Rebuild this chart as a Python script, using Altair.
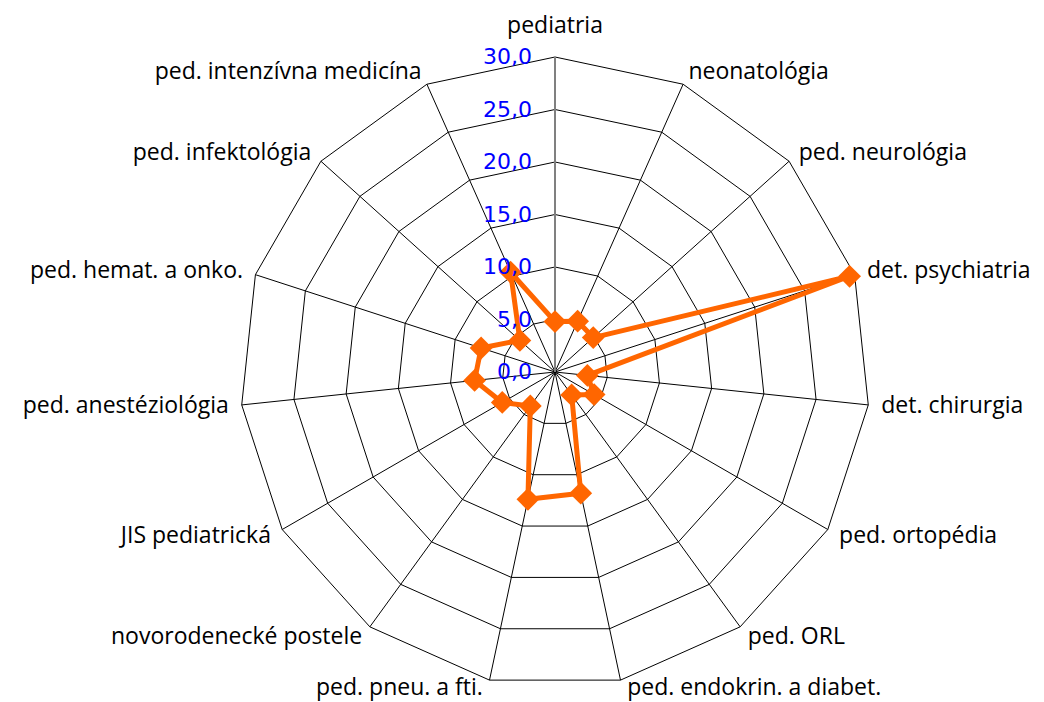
import altair as alt
import numpy as np
import pandas as pd

categories = [
    "pediatria", "neonatológia", "ped. neurológia", "det. psychiatria",
    "det. chirurgia", "ped. ortopédia", "ped. ORL", "ped. endokrin. a diabet.",
    "ped. pneu. a fti.", "novorodenecké postele", "JIS pediatrická",
    "ped. anestéziológia", "ped. hemat. a onko.", "ped. infektológia",
    "ped. intenzívna medicína",
]
values = [4.8, 5.3, 4.9, 29.5, 3.1, 4.3, 2.7, 11.8, 12.4, 4.0, 5.8, 7.7, 7.4, 4.5, 10.4]
ring_levels = [5, 10, 15, 20, 25, 30]
tick_values = [0, 5, 10, 15, 20, 25, 30]
tick_labels = ["0,0", "5,0", "10,0", "15,0", "20,0", "25,0", "30,0"]

R_MAX = 30
PX = 10.5          # pixels per unit
W, H = 1028, 694
CX, CY = 547, 364  # centre in chart coords

n = len(categories)
theta = 2 * np.pi * np.arange(n) / n

# series polygon (closed)
series = pd.DataFrame({
    "cat": categories + [categories[0]],
    "v": values + [values[0]],
    "ord": list(range(n + 1)),
    "th": list(theta) + [theta[0]],
})
series["x"] = series["v"] * np.sin(series["th"])
series["y"] = series["v"] * np.cos(series["th"])

# grid rings
rows = []
for r in ring_levels:
    for i in range(n + 1):
        t = theta[i % n]
        rows.append({"ring": r, "ord": i, "x": r * np.sin(t), "y": r * np.cos(t)})
grid = pd.DataFrame(rows)

# spokes
spokes = pd.DataFrame({
    "x0": 0.0, "y0": 0.0,
    "x": R_MAX * np.sin(theta), "y": R_MAX * np.cos(theta),
})

# category labels
lab = pd.DataFrame({"cat": categories, "th": theta})
s = np.sin(theta)
c = np.cos(theta)
off = np.where(np.abs(s) < 1e-6, 31.0, np.where(c < -0.9, 8.0, 13.0))
lab_r = R_MAX + off / PX
lab["x"] = lab_r * s + np.where(c < -0.9, np.sign(s) * 5 / PX, 0.0)
lab["y"] = lab_r * c
lab["side"] = np.where(s > 1e-6, "left", np.where(s < -1e-6, "right", "center"))

ticks = pd.DataFrame({"v": tick_values, "t": tick_labels})
ticks["x"] = 0.0

xs = alt.Scale(domain=[-CX / PX, (W - CX) / PX], nice=False, zero=False)
ys = alt.Scale(domain=[-(H - CY) / PX, CY / PX], nice=False, zero=False)

X = lambda f: alt.X(f, type="quantitative", scale=xs, axis=None)
Y = lambda f: alt.Y(f, type="quantitative", scale=ys, axis=None)

ring_layer = alt.Chart(grid).mark_line(color="black", strokeWidth=1).encode(
    x=X("x"), y=Y("y"), detail="ring:N", order="ord:Q"
)
spoke_layer = alt.Chart(spokes).mark_rule(color="black", strokeWidth=1).encode(
    x=X("x0"), y=Y("y0"), x2="x", y2="y"
)
axis_layer = alt.Chart(pd.DataFrame({"x0": [0.0], "y0": [0.0], "y1": [float(R_MAX)]})).mark_rule(
    color="#808080", strokeWidth=2
).encode(x=X("x0"), y=Y("y0"), y2="y1")

line_layer = alt.Chart(series).mark_line(color="#FF6600", strokeWidth=5, strokeJoin="round").encode(
    x=X("x"), y=Y("y"), order="ord:Q"
)
point_layer = alt.Chart(series.iloc[:n]).mark_point(
    shape="diamond", filled=True, color="#FF6600", size=520, opacity=1
).encode(x=X("x"), y=Y("y"))

FONT = "Open Sans"
label_layers = []
for side in ["left", "right", "center"]:
    label_layers.append(
        alt.Chart(lab[lab["side"] == side]).mark_text(
            align=side, baseline="middle", font=FONT, fontSize=23, color="black"
        ).encode(x=X("x"), y=Y("y"), text="cat:N")
    )

tick_layer = alt.Chart(ticks).mark_text(
    align="right", baseline="middle", font="DejaVu Sans", fontSize=22, color="#0000FF", dx=-23
).encode(x=X("x"), y=Y("v"), text="t:N")

chart = alt.layer(
    ring_layer, spoke_layer, axis_layer, line_layer, point_layer, *label_layers, tick_layer
).properties(
    width=W, height=H, padding=0, autosize=alt.AutoSizeParams(type="none")
).configure_view(stroke=None)

chart.save("out.html", embed_options={"renderer": "svg", "actions": False})
